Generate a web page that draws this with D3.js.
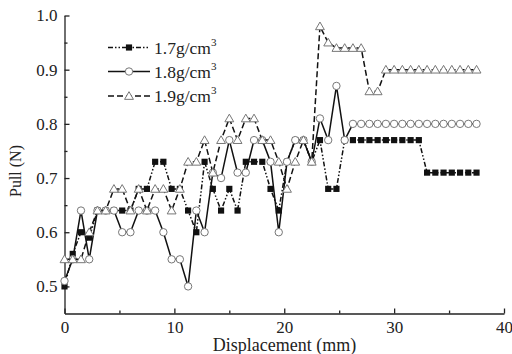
<!DOCTYPE html>
<html><head><meta charset="utf-8">
<script src="https://cdn.jsdelivr.net/npm/d3@7"></script>
<style>
body{margin:0;background:#fff;}
svg{display:block;font-family:"Liberation Serif","Times New Roman",serif;}
</style></head>
<body><svg id="c" width="512" height="354"></svg>
<script>
const step = 0.75;
const pull17 = [0.50,0.56,0.60,0.59,0.64,0.64,0.64,0.64,0.64,0.68,0.68,0.73,0.73,0.68,0.68,0.64,0.60,0.73,0.68,0.64,0.68,0.64,0.73,0.73,0.73,0.68,0.64,0.73,0.77,0.77,0.73,0.77,0.68,0.68,0.77,0.77,0.77,0.77,0.77,0.77,0.77,0.77,0.77,0.77,0.71,0.71,0.71,0.71,0.71,0.71,0.71];
const pull18 = [0.51,0.55,0.64,0.55,0.64,0.64,0.64,0.60,0.60,0.64,0.64,0.64,0.60,0.55,0.55,0.50,0.64,0.60,0.71,0.70,0.77,0.71,0.71,0.77,0.77,0.73,0.60,0.73,0.77,0.77,0.73,0.81,0.77,0.87,0.77,0.80,0.80,0.80,0.80,0.80,0.80,0.80,0.80,0.80,0.80,0.80,0.80,0.80,0.80,0.80,0.80];
const pull19 = [0.55,0.55,0.55,0.60,0.64,0.64,0.68,0.68,0.64,0.68,0.64,0.68,0.68,0.64,0.68,0.73,0.73,0.77,0.71,0.77,0.81,0.77,0.81,0.81,0.77,0.77,0.73,0.68,0.73,0.77,0.73,0.98,0.95,0.94,0.94,0.94,0.94,0.86,0.86,0.90,0.90,0.90,0.90,0.90,0.90,0.90,0.90,0.90,0.90,0.90,0.90];
const seriesNames = ["1.7g/cm", "1.8g/cm", "1.9g/cm"];
const xTicks = [0,10,20,30,40];
const xMinor = [5,15,25,35];
const yTicks = [0.5,0.6,0.7,0.8,0.9,1.0];
const yMinor = [0.55,0.65,0.75,0.85,0.95];

const svg = d3.select("#c");
const x = d3.scaleLinear().domain([0,40]).range([64.5,504]);
const y = d3.scaleLinear().domain([0.45,1.0]).range([313.5,15.5]);
const FONT = "Liberation Serif, Times New Roman, serif";

svg.append("g").attr("transform","translate(0,313.5)")
  .call(d3.axisBottom(x).tickValues(xTicks).tickFormat(d3.format("d")).tickSizeInner(-5).tickSizeOuter(0).tickPadding(7));
svg.append("g").attr("transform","translate(0,313.5)")
  .call(d3.axisBottom(x).tickValues(xMinor).tickFormat("").tickSizeInner(-3).tickSizeOuter(0))
  .select(".domain").remove();
svg.append("g").attr("transform","translate(64.5,0)")
  .call(d3.axisLeft(y).tickValues(yTicks).tickFormat(d3.format(".1f")).tickSizeInner(-5).tickSizeOuter(0).tickPadding(7));
svg.append("g").attr("transform","translate(64.5,0)")
  .call(d3.axisLeft(y).tickValues(yMinor).tickFormat("").tickSizeInner(-3).tickSizeOuter(0))
  .select(".domain").remove();
svg.selectAll("g").attr("font-family",FONT);
svg.selectAll(".domain, .tick line").attr("stroke","#222").attr("stroke-width",1.3);
svg.selectAll(".tick text").attr("font-size",17).attr("fill","#222");

svg.append("text").attr("x",284.5).attr("y",351).attr("text-anchor","middle")
  .attr("font-family",FONT).attr("font-size",18).attr("fill","#222").text("Displacement (mm)");
svg.append("text").attr("transform","translate(21,171) rotate(-90)").attr("text-anchor","middle")
  .attr("font-family",FONT).attr("font-size",16).attr("fill","#222").text("Pull (N)");

const styles = [
  {data:pull17, dash:"5,2,1.5,2,1.5,2", marker:"square"},
  {data:pull18, dash:null, marker:"circle"},
  {data:pull19, dash:"6,3", marker:"triangle"}
];
const line = d3.line().x((d,i)=>x(i*step)).y(d=>y(d));
const symSq = d3.symbol().type(d3.symbolSquare).size(38);
const symTri = d3.symbol().type(d3.symbolTriangle).size(34);

function drawMarker(g, type, cx, cy){
  if(type==="square"){
    g.append("path").attr("d",symSq()).attr("transform",`translate(${cx},${cy})`).attr("fill","#111");
  } else if(type==="circle"){
    g.append("circle").attr("cx",cx).attr("cy",cy).attr("r",3.7).attr("fill","#fff").attr("stroke","#777").attr("stroke-width",1);
  } else {
    g.append("path").attr("d",symTri()).attr("transform",`translate(${cx},${cy+0.8})`).attr("fill","#fff").attr("stroke","#777").attr("stroke-width",1);
  }
}

styles.forEach(s=>{
  const g = svg.append("g");
  g.append("path").datum(s.data).attr("d",line).attr("fill","none").attr("stroke","#111")
    .attr("stroke-width",1.5).attr("stroke-dasharray",s.dash);
  s.data.forEach((v,i)=>drawMarker(g, s.marker, x(i*step), y(v)));
});

const legY = [47.5,71.5,96];
styles.forEach((s,k)=>{
  const g = svg.append("g");
  g.append("line").attr("x1",108).attr("x2",150).attr("y1",legY[k]).attr("y2",legY[k])
    .attr("stroke","#111").attr("stroke-width",1.5).attr("stroke-dasharray",s.dash);
  drawMarker(g, s.marker, 129, legY[k]);
  const t = g.append("text").attr("x",154).attr("y",legY[k]+6).attr("font-family",FONT).attr("font-size",17.5).attr("fill","#222");
  t.append("tspan").text(seriesNames[k]);
  t.append("tspan").attr("dy",-8).attr("font-size",11).text("3");
});
</script></body></html>
